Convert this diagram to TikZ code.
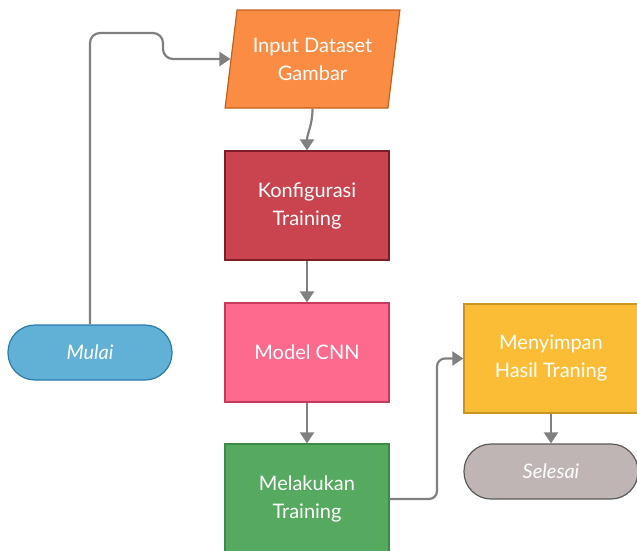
\documentclass[tikz,border=0pt]{standalone}
\usepackage{fontspec}
\setmainfont{Lato}
\usetikzlibrary{shapes.geometric,arrows.meta}

\definecolor{inputfill}{HTML}{FA8C44}
\definecolor{inputline}{HTML}{C2611E}
\definecolor{konffill}{HTML}{C9444E}
\definecolor{konfline}{HTML}{7B1E25}
\definecolor{modelfill}{HTML}{FD6A8E}
\definecolor{modelline}{HTML}{C73A5B}
\definecolor{trainfill}{HTML}{55AA60}
\definecolor{trainline}{HTML}{3E8A47}
\definecolor{savefill}{HTML}{FCBD36}
\definecolor{saveline}{HTML}{C99521}
\definecolor{endfill}{HTML}{BFB5B5}
\definecolor{endline}{HTML}{5A5A5A}
\definecolor{startfill}{HTML}{61B1D6}
\definecolor{startline}{HTML}{2A7CAB}
\definecolor{flowgray}{HTML}{808080}

\tikzset{
  box/.style={draw, line width=1.2pt, text=white, align=center,
    font=\fontsize{20}{28}\selectfont, minimum width=164pt, minimum height=109pt},
  terminal/.style={box, rounded corners=27pt, minimum height=55pt, font=\fontsize{20}{28}\selectfont\itshape},
  flow/.style={draw=flowgray, line width=2.2pt, -{Triangle[length=11pt,width=14pt]}}
}

\begin{document}
\begin{tikzpicture}[x=1pt,y=1pt]
        \useasboundingbox (0,0) rectangle (637,-550);
        \clip (0,0) rectangle (637,-550);

        % Start and input
        \node[terminal, fill=startfill, draw=startline] (mulai) at (90,-352.5) {Mulai};
        \node[box, trapezium, trapezium left angle=78.5, trapezium right angle=101.5,
          trapezium stretches=true, minimum width=175pt, minimum height=98pt,
          fill=inputfill, draw=inputline] (input) at (312.5,-59) {Input Dataset\\Gambar};

        % Middle column
        \node[box, fill=konffill, draw=konfline] (konf) at (307,-205.5) {Konfigurasi\\Training};
        \node[box, minimum height=99pt, fill=modelfill, draw=modelline] (model) at (307,-352.5) {Model CNN};
        \node[box, minimum height=110pt, fill=trainfill, draw=trainline] (train) at (307,-499) {Melakukan\\Training};

        % Right column
        \node[box, minimum width=174pt, fill=savefill, draw=saveline] (simpan) at (551,-358.5) {Menyimpan\\Hasil Traning};
        \node[terminal, minimum width=174pt, fill=endfill, draw=endline] (selesai) at (551,-471.5) {Selesai};

        % Connectors
        \draw[flow, rounded corners=10pt] (mulai.north) |- (163,-33) -- (163,-59) -- (input.west);
        \draw[flow] (input.south) to[out=-90,in=90] (konf.north);
        \draw[flow] (konf.south) -- (model.north);
        \draw[flow] (model.south) -- (train.north);
        \draw[flow, rounded corners=8pt] (train.east) -| (437,-358.5) -- (simpan.west);
        \draw[flow] (simpan.south) -- (selesai.north);
    \end{tikzpicture}
\end{document}
